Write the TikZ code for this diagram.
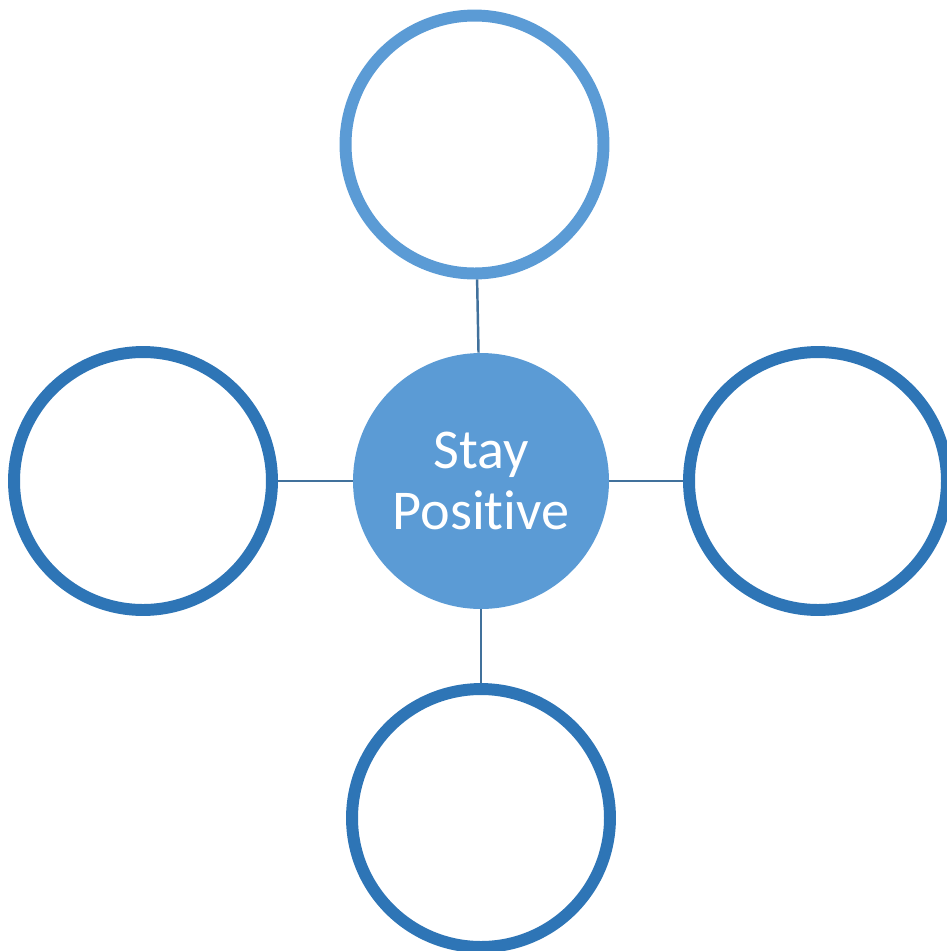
\documentclass[tikz,border=0pt]{standalone}
\usepackage{fontspec}
\setsansfont{Carlito}[Ligatures=NoCommon]
\usepackage{tikz}
\usetikzlibrary{positioning}
\definecolor{hubblue}{HTML}{5B9BD5}
\definecolor{ringblue}{HTML}{2E75B6}
\definecolor{linkblue}{HTML}{41719C}
\tikzset{
  ring/.style={circle, draw=ringblue, line width=6.8pt, fill=white,
    inner sep=0pt, minimum size=5.16cm},
  hub/.style={circle, fill=hubblue, inner sep=0pt, minimum size=5.12cm,
    text=white, align=center, font=\sffamily\fontsize{32}{35}\selectfont},
  link/.style={draw=linkblue, line width=1.4pt}
}

\begin{document}
\begin{tikzpicture}[x=0.02cm, y=-0.02cm]
  \useasboundingbox (0,0) rectangle (947,951);
  \clip (0,0) rectangle (947,951);
  % centre and the four rings
  \node[hub] (hub) at (481,481) {Stay\\Positive};
  \node[ring, draw=hubblue] (top) at (474.5,144.5) {};
  \node[ring] (left) at (143,481) {};
  \node[ring] (right) at (818,481) {};
  \node[ring] (bottom) at (481,818) {};
  % spokes
  \draw[link] (top) -- (hub);
  \draw[link] (left) -- (hub);
  \draw[link] (right) -- (hub);
  \draw[link] (bottom) -- (hub);
\end{tikzpicture}
\end{document}
